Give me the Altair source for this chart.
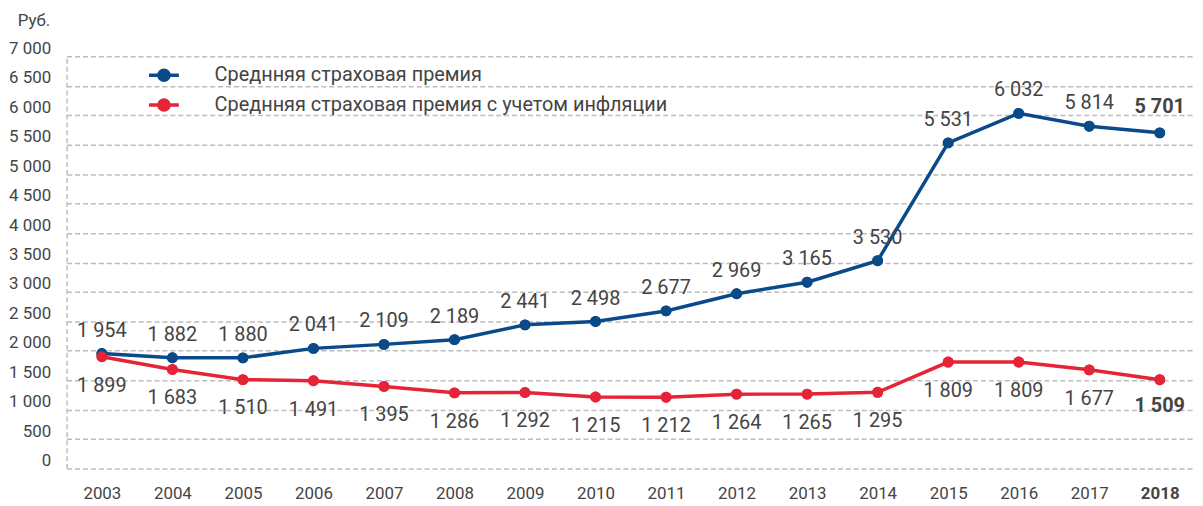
import altair as alt
import pandas as pd

years = [str(y) for y in range(2003, 2019)]
premium = [1954, 1882, 1880, 2041, 2109, 2189, 2441, 2498, 2677, 2969, 3165, 3530, 5531, 6032, 5814, 5701]
premium_infl = [1899, 1683, 1510, 1491, 1395, 1286, 1292, 1215, 1212, 1264, 1265, 1295, 1809, 1809, 1677, 1509]
series_names = ["Среднняя страховая премия", "Среднняя страховая премия с учетом инфляции"]
series_colors = ["#0b4a89", "#e52437"]
y_ticks = list(range(0, 7001, 500))

rows = []
for name, vals in zip(series_names, [premium, premium_infl]):
    for yr, v in zip(years, vals):
        rows.append({"year": yr, "value": v, "series": name,
                     "label": f"{v:,}".replace(",", " ")})
df = pd.DataFrame(rows)

FONT = "Roboto"
TEXT = "#444444"
GRID = "#bcbcbc"

x = alt.X("year:O", scale=alt.Scale(type="point", padding=0.5),
          axis=alt.Axis(title=None, domain=False, ticks=False, labelAngle=0,
                        labelPadding=17, labelFontSize=17, labelColor=TEXT, labelFont=FONT,
                        labelFontWeight=alt.expr("datum.value == '2018' ? 'bold' : 'normal'"),
                        grid=False))
y = alt.Y("value:Q", scale=alt.Scale(domain=[0, 7000], nice=False),
          axis=alt.Axis(values=y_ticks, title="Руб.", titleAngle=0, titleX=-17, titleY=-36,
                        titleAlign="right", titleBaseline="middle", titleFontSize=17,
                        titleFontWeight="normal", titleColor=TEXT, titleFont=FONT,
                        labelExpr="replace(format(datum.value, ','), ',', ' ')",
                        labelFontSize=17, labelColor=TEXT, labelFont=FONT,
                        labelPadding=16, labelOffset=-8, ticks=False,
                        domainDash=[5, 3], domainColor=GRID, domainWidth=1.5,
                        gridDash=[5, 3], gridColor=GRID, gridWidth=1.5))

legend_symbol = "M-1,0H1M0.34,0A0.34,0.34,0,1,1,-0.34,0A0.34,0.34,0,1,1,0.34,0Z"
legend = alt.Legend(title=None, orient="none", legendX=81, legendY=2,
                    symbolType=legend_symbol, symbolSize=900,
                    symbolStrokeWidth=3.5, labelFontSize=20, labelFont=FONT,
                    labelColor=TEXT, labelOffset=34, labelLimit=0, rowPadding=-3)
color = alt.Color("series:N", scale=alt.Scale(domain=series_names, range=series_colors),
                  legend=legend)

base = alt.Chart(df).encode(x=x, y=y)
lines = base.mark_line(strokeWidth=3.5).encode(color=color)
points = base.mark_point(filled=True, size=120, opacity=1).encode(color=color)

blue_df = base.transform_filter(alt.datum.series == series_names[0])
red_df = base.transform_filter(alt.datum.series == series_names[1])

LBL = 20
blue_txt = blue_df.transform_filter(alt.datum.year != "2018").mark_text(
    dy=-23, fontSize=LBL, font=FONT, color=TEXT).encode(text="label:N")
blue_txt_b = blue_df.transform_filter(alt.datum.year == "2018").mark_text(
    dy=-26, fontSize=LBL, font=FONT, color=TEXT, fontWeight="bold").encode(text="label:N")
red_txt = red_df.transform_filter(alt.datum.year != "2018").mark_text(
    dy=29, fontSize=LBL, font=FONT, color=TEXT).encode(text="label:N")
red_txt_b = red_df.transform_filter(alt.datum.year == "2018").mark_text(
    dy=27, fontSize=LBL, font=FONT, color=TEXT, fontWeight="bold").encode(text="label:N")

chart = alt.layer(points, lines, points, blue_txt, blue_txt_b, red_txt, red_txt_b).properties(
    width=1136, height=415,
    padding={"left": 59, "top": 47, "right": 0, "bottom": 36},
    autosize=alt.AutoSizeParams(type="none"),
).configure_view(stroke=None)

chart.save("out.html", embed_options={"renderer": "svg", "actions": False})
